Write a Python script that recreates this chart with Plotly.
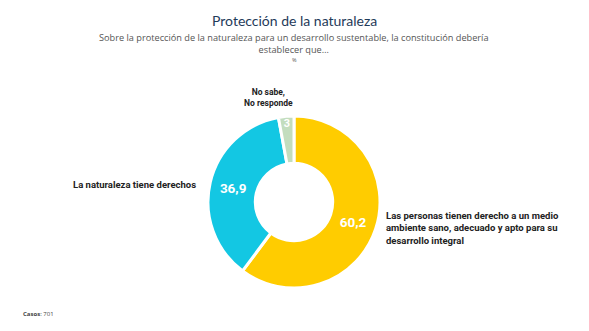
import plotly.graph_objects as go

categories = ["Las personas tienen derecho a un medio ambiente sano, adecuado y apto para su desarrollo integral",
              "La naturaleza tiene derechos",
              "No sabe, No responde"]
values = [60.2, 36.9, 2.9]
value_labels = ["60,2", "36,9", "3"]
colors = ["#FFCC00", "#13C7E3", "#C3DDBE"]

W, H = 589, 331
cx, cy, r = 294, 202, 86

cond = "Roboto, sans-serif"

fig = go.Figure(go.Pie(
    labels=categories, values=values, text=value_labels,
    textinfo="text", hole=0.45, sort=False, direction="clockwise", rotation=0,
    marker=dict(colors=colors, line=dict(color="white", width=3)),
    textposition="inside",
    insidetextorientation="horizontal",
    textfont=dict(family=cond, size=[13.5, 13.5, 11], color="white", weight="bold"),
    domain=dict(x=[(cx - r) / W, (cx + r) / W], y=[(H - cy - r) / H, (H - cy + r) / H]),
    showlegend=False, hoverinfo="label+text",
))

ann = [
    dict(x=294 / W, y=1 - 20 / H, text="Protección de la naturaleza",
         font=dict(family="Lato", size=14, color="#1F3B5A")),
    dict(x=294 / W, y=1 - 43 / H, text="Sobre la protección de la naturaleza para un desarrollo sustentable, la constitución debería<br>establecer que…",
         font=dict(family="Open Sans", size=9.2, color="#555555")),
    dict(x=294 / W, y=1 - 60 / H, text="%", font=dict(family="Open Sans", size=5.5, color="#555555")),
    dict(x=268 / W, y=1 - 98 / H, text="No sabe,<br>No responde",
         font=dict(family=cond, size=8.5, color="#222222", weight="bold")),
    dict(x=198 / W, y=1 - 184 / H, text="La naturaleza tiene derechos", xanchor="right",
         font=dict(family=cond, size=9.5, color="#222222", weight="bold")),
    dict(x=384 / W, y=1 - 228 / H, text="Las personas tienen derecho a un medio<br>ambiente sano, adecuado y apto para su<br>desarrollo integral",
         xanchor="left", align="left",
         font=dict(family=cond, size=9.5, color="#222222", weight="bold")),
    dict(x=21 / W, y=1 - 314 / H, text="<b>Casos</b>: 701", xanchor="left",
         font=dict(family="Open Sans", size=6, color="#444444")),
]
for a in ann:
    a.setdefault("xanchor", "center")
    a["yanchor"] = "middle"
    a["xref"] = "paper"
    a["yref"] = "paper"
    a["showarrow"] = False

fig.update_layout(
    width=W, height=H, margin=dict(l=0, r=0, t=0, b=0),
    paper_bgcolor="white", plot_bgcolor="white",
    annotations=ann,
)
fig.write_html("out.html")
